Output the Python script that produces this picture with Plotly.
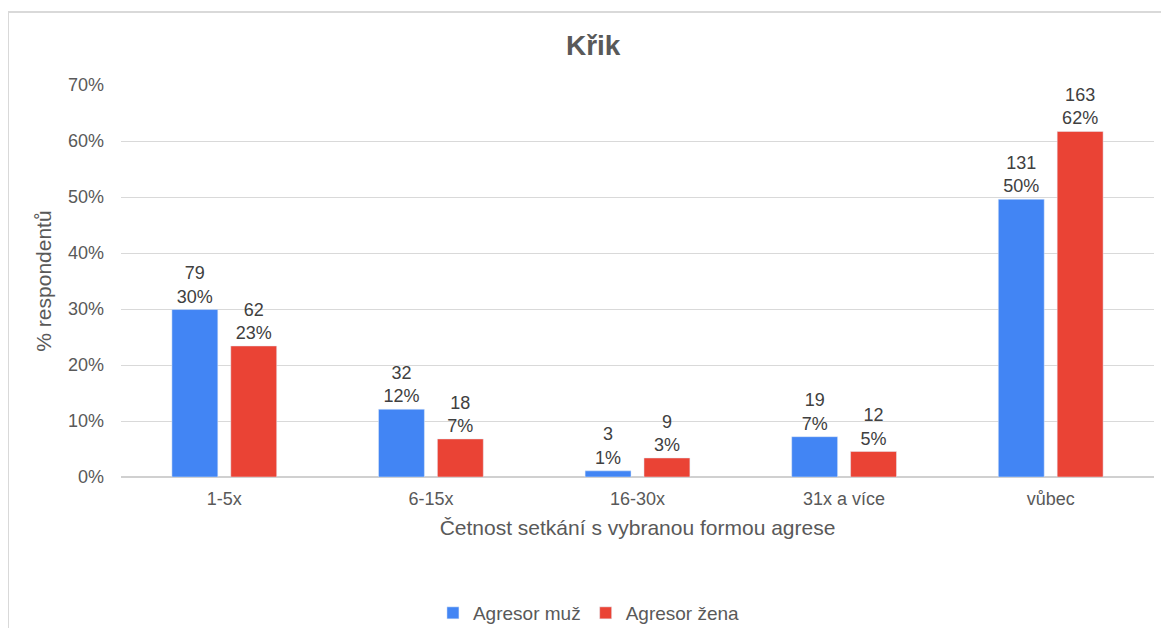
import plotly.graph_objects as go

# Data
kategorie = ["1-5x", "6-15x", "16-30x", "31x a více", "vůbec"]
muz_pocet = [79, 32, 3, 19, 131]
muz_podil = [0.299, 0.121, 0.011, 0.072, 0.496]
zena_pocet = [62, 18, 9, 12, 163]
zena_podil = [0.234, 0.068, 0.034, 0.0455, 0.617]
y_ticks = [0, 0.1, 0.2, 0.3, 0.4, 0.5, 0.6, 0.7]

MODRA = "#4285F4"
CERVENA = "#EA4335"
SEDA = "#595959"
FONT = "Liberation Sans, Arial, sans-serif"


def popisky(pocty, podily):
    return [f"{p}<br>{round(v * 100):.0f}%" for p, v in zip(pocty, podily)]


fig = go.Figure()
for nazev, pocty, podily, barva in [
    ("Agresor muž", muz_pocet, muz_podil, MODRA),
    ("Agresor žena", zena_pocet, zena_podil, CERVENA),
]:
    fig.add_trace(go.Bar(
        name=nazev,
        x=kategorie,
        y=podily,
        marker=dict(color=barva),
        text=popisky(pocty, podily),
        textposition="outside",
        textfont=dict(family=FONT, size=18, color="#404040"),
        cliponaxis=False,
    ))

# Light frame around the chart (opens to the right and bottom like the crop)
fig.add_shape(type="rect", xref="paper", yref="paper",
              x0=-0.1094, x1=1.1, y0=-0.6, y1=1.186,
              line=dict(color="#d9d9d9", width=2), fillcolor="rgba(0,0,0,0)",
              layer="below")

# page body has an 8px margin, so the figure is sized/offset to compensate
fig.update_layout(
    title=dict(text="<b>Křik</b>", x=0.504, xanchor="center", y=0.940, yanchor="middle",
               font=dict(family=FONT, size=28, color=SEDA)),
    barmode="group",
    bargap=0.43,
    bargroupgap=0.22,
    plot_bgcolor="#ffffff",
    paper_bgcolor="#ffffff",
    width=1161,
    height=620,
    margin=dict(l=113, r=15, t=77, b=151),
    font=dict(family=FONT, color=SEDA),
    uniformtext=dict(mode=False),
    xaxis=dict(
        title=dict(text="Četnost setkání s vybranou formou agrese",
                   font=dict(family=FONT, size=21, color=SEDA), standoff=12),
        tickfont=dict(family=FONT, size=18, color=SEDA),
        showgrid=False,
        showline=False,
        ticks="",
        ticklabelstandoff=9,
        automargin=False,
    ),
    yaxis=dict(
        title=dict(text="% respondentů", font=dict(family=FONT, size=21, color=SEDA), standoff=10),
        range=[0, 0.7],
        tickvals=y_ticks,
        tickformat=".0%",
        tickfont=dict(family=FONT, size=18, color=SEDA),
        gridcolor="#d9d9d9",
        gridwidth=1,
        zeroline=True,
        zerolinecolor="#d0d0d0",
        zerolinewidth=1.5,
        ticks="",
        ticklabelstandoff=16,
        automargin=False,
    ),
    legend=dict(
        orientation="h",
        xref="paper", x=0.453, xanchor="center",
        yref="container", y=0.0242, yanchor="middle",
        font=dict(family=FONT, size=19, color=SEDA),
        itemwidth=30,
        traceorder="normal",
    ),
)

fig.write_html("out.html")
